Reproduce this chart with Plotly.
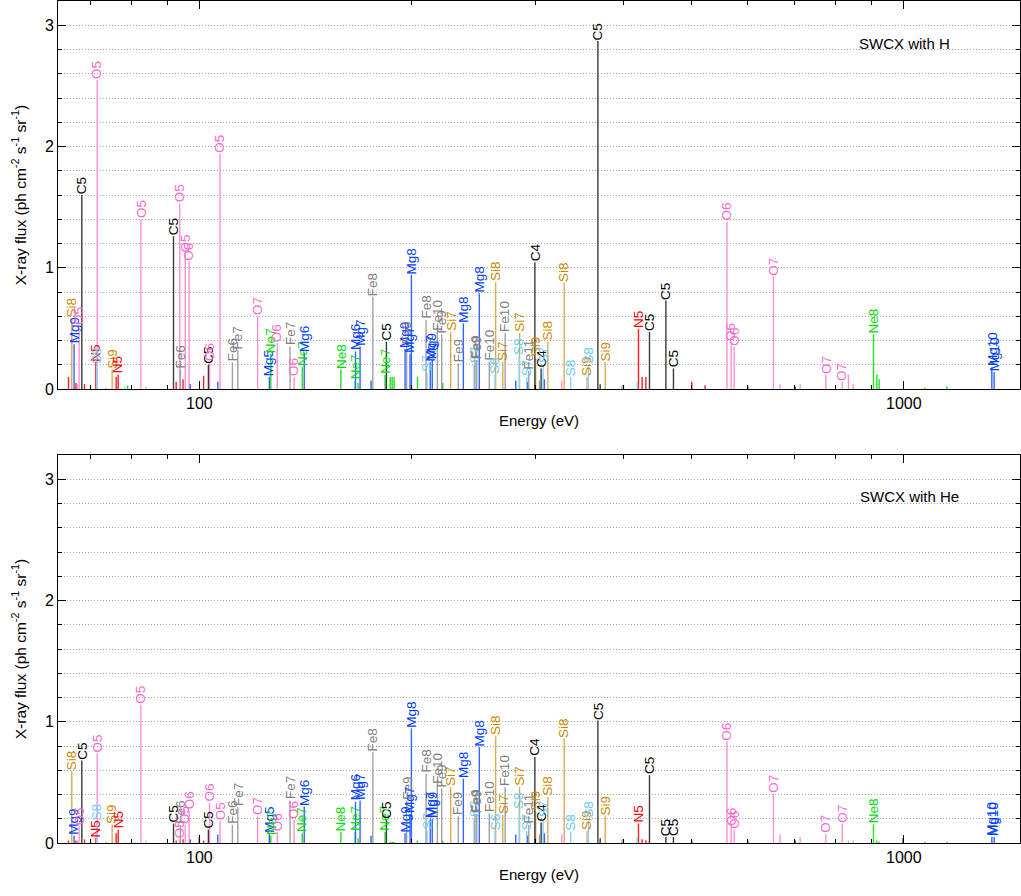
import math
import re
import plotly.graph_objects as go

# ---------------- data ----------------
# labelled lines: energy (eV), ion label, flux for SWCX with H and with He
line_energy = [65.9, 66.4, 67.5, 68.1, 71.3, 71.5, 71.6, 75.2, 76.7, 82.6,
               91.9, 93.8, 94.0, 95.5, 96.7, 103.0, 103.4, 107.0, 111.4, 113.4,
               121.0, 125.7, 126.3, 129.0, 134.5, 136.3, 140.0, 140.9, 158.8, 166.4,
               166.6, 169.1, 176.3, 183.5, 184.3, 195.9, 196.9, 199.1, 200.0, 209.8,
               210.5, 212.7, 214.1, 217.7, 220.8, 227.4, 233.1, 237.0, 245.4, 246.2,
               247.6, 249.7, 258.0, 262.8, 263.4, 269.6, 271.7, 284.4, 284.8, 291.6,
               293.5, 299.4, 300.2, 305.6, 307.6, 312.4, 329.5, 336.7, 355.1, 356.7,
               367.9, 376.8, 420.1, 435.5, 459.5, 471.0, 560.9, 568.8, 574.4, 653.0,
               775.1, 817.5, 905.6, 1333.4, 1343.5]
line_ion = ["Si8", "Mg9", "O5", "C5", "N5", "S8", "O5", "Si9", "N5", "O5",
            "C5", "O5", "Fe6", "O5", "O6", "C5", "O6", "O5", "Fe6", "Fe7",
            "O7", "Mg5", "Ne7", "O6", "Fe7", "O6", "Ne7", "Mg6", "Ne8", "Ne7",
            "Mg6", "Mg7", "Fe8", "Ne7", "C5", "Mg9", "Fe9", "Mg7", "Mg8", "Fe8",
            "S7", "Mg7", "Mg9", "Fe10", "Fe9", "Si7", "Fe9", "Mg8", "S7", "Fe9",
            "Fe9", "Mg8", "Fe10", "S6", "Si8", "Si7", "Fe10", "S8", "Si7", "S7",
            "Fe11", "C4", "Si9", "C4", "S7", "Si8", "Si8", "S8", "Si9", "S8",
            "C5", "Si9", "N5", "C5", "C5", "C5", "O6", "O6", "O6", "O7",
            "O7", "O7", "Ne8", "Mg10", "Mg10"]
flux_h = [0.58, 0.37, 0.52, 1.60, 0.22, 0.20, 2.55, 0.16, 0.12, 1.40,
          1.26, 1.53, 0.16, 1.12, 1.05, 0.20, 0.22, 1.94, 0.22, 0.32,
          0.60, 0.10, 0.29, 0.38, 0.35, 0.10, 0.18, 0.30, 0.16, 0.07,
          0.31, 0.35, 0.76, 0.115, 0.39, 0.33, 0.36, 0.29, 0.94, 0.57,
          0.13, 0.22, 0.24, 0.47, 0.45, 0.47, 0.21, 0.54, 0.20, 0.24,
          0.24, 0.79, 0.225, 0.12, 0.88, 0.22, 0.46, 0.27, 0.46, 0.10,
          0.15, 1.045, 0.26, 0.17, 0.20, 0.39, 0.875, 0.10, 0.10, 0.20,
          2.87, 0.22, 0.495, 0.47, 0.73, 0.17, 1.38, 0.39, 0.35, 0.93,
          0.115, 0.06, 0.45, 0.18, 0.14]
flux_he = [0.59, 0.06, 0.14, 0.68, 0.04, 0.18, 0.74, 0.15, 0.11, 1.14,
           0.16, 0.03, 0.15, 0.15, 0.27, 0.11, 0.33, 0.18, 0.15, 0.30,
           0.22, 0.08, 0.06, 0.09, 0.35, 0.19, 0.08, 0.30, 0.09, 0.09,
           0.34, 0.35, 0.75, 0.09, 0.19, 0.08, 0.35, 0.24, 0.945, 0.57,
           0.10, 0.20, 0.20, 0.48, 0.45, 0.46, 0.22, 0.53, 0.20, 0.24,
           0.24, 0.79, 0.245, 0.10, 0.88, 0.23, 0.46, 0.27, 0.46, 0.10,
           0.15, 0.71, 0.26, 0.17, 0.20, 0.38, 0.86, 0.095, 0.10, 0.20,
           1.01, 0.22, 0.16, 0.56, 0.05, 0.05, 0.835, 0.135, 0.11, 0.41,
           0.075, 0.16, 0.155, 0.05, 0.05]

# weak unlabelled lines
minor_energy = [65.2, 66.8, 67.2, 68.7, 73.7, 76.2, 78.4, 79.1, 84.0, 92.7,
                94.8, 97.1, 100.0, 101.4, 106.2, 168.0, 175.3, 186.6, 187.8, 189.0,
                204.0, 221.6, 281.3, 292.6, 303.9, 308.9, 326.9, 370.7, 397.8, 399.9,
                418.3, 425.2, 430.4, 500.1, 522.3, 600.5, 667.5, 701.0, 712.6, 834.5,
                847.4, 915.7, 922.6, 997.7, 1072.1, 1151.0]
minor_element = ["N", "N", "O", "N", "Si", "N", "S", "Ne", "S", "N",
                 "N", "Mg", "C", "N", "Mg", "Ne", "Mg", "Ne", "Ne", "Ne",
                 "Ne", "Ne", "Mg", "Mg", "Fe", "Mg", "O", "C", "S", "C",
                 "S", "N", "N", "N", "N", "C", "O", "C", "O", "O",
                 "O", "Ne", "Ne", "C", "Ne", "Ne"]
minor_flux_h = [0.10, 0.05, 0.04, 0.04, 0.01, 0.10, 0.02, 0.03, 0.02, 0.06,
                0.08, 0.04, 0.00, 0.11, 0.06, 0.05, 0.07, 0.10, 0.10, 0.10,
                0.10, 0.05, 0.07, 0.06, 0.07, 0.08, 0.07, 0.04, 0.03, 0.03,
                0.06, 0.10, 0.10, 0.06, 0.03, 0.02, 0.04, 0.02, 0.04, 0.12,
                0.04, 0.12, 0.08, 0.00, 0.01, 0.02]
minor_flux_he = [0.02, 0.02, 0.02, 0.03, 0.01, 0.08, 0.01, 0.00, 0.02, 0.02,
                 0.03, 0.03, 0.05, 0.02, 0.07, 0.04, 0.06, 0.01, 0.01, 0.01,
                 0.02, 0.02, 0.07, 0.06, 0.07, 0.08, 0.07, 0.04, 0.03, 0.03,
                 0.05, 0.03, 0.02, 0.02, 0.00, 0.02, 0.07, 0.02, 0.05, 0.02,
                 0.02, 0.02, 0.01, 0.04, 0.01, 0.01]

panel_titles = ["SWCX with H", "SWCX with He"]
x_major_ticks = [100, 1000]
x_minor_ticks = [70, 80, 90, 200, 300, 400, 500, 600, 700, 800, 900]
y_major_ticks = [0, 1, 2, 3]

# ---------------- styles ----------------
label_color = {"C": "#000000", "N": "#ff0000", "O": "#ff66cc", "Ne": "#00dd00",
               "Mg": "#0040ff", "Si": "#cc8800", "S": "#66ccff", "Fe": "#808080"}
stick_color = {"C": "#3a3a3a", "N": "#ff2020", "O": "#ff90da", "Ne": "#22e022",
               "Mg": "#3366ff", "Si": "#dcaa55", "S": "#88d4ff", "Fe": "#a0a0a0"}
FONT = "Liberation Sans, Arial, Helvetica, sans-serif"
GRID = "#a8a8a8"


def element(ion):
    return re.sub(r"\d+", "", ion)


fig = go.Figure()
annotations = []

panels = [("x", "y", flux_h, minor_flux_h), ("x2", "y2", flux_he, minor_flux_he)]
for (xa, ya, fl, mfl) in panels:
    groups = {}
    for e, el, v in zip(minor_energy, minor_element, mfl):
        groups.setdefault(el, ([], []))
        groups[el][0].extend([e, e, None])
        groups[el][1].extend([0, v, None])
    for e, ion, v in zip(line_energy, line_ion, fl):
        el = element(ion)
        groups.setdefault(el, ([], []))
        groups[el][0].extend([e, e, None])
        groups[el][1].extend([0, v, None])
    for el, (xs, ys) in groups.items():
        fig.add_trace(go.Scatter(x=xs, y=ys, mode="lines", xaxis=xa, yaxis=ya,
                                 line=dict(color=stick_color[el], width=1.4),
                                 hoverinfo="skip", showlegend=False))
    for e, ion, v in zip(line_energy, line_ion, fl):
        annotations.append(dict(
            x=math.log10(e), y=v, xref=xa, yref=ya, text=ion, showarrow=False,
            textangle=-90, xanchor="center", yanchor="bottom", borderpad=0,
            font=dict(family=FONT, size=13.5, color=label_color[element(ion)])))

annotations.append(dict(x=0.880, y=0.949, xref="paper", yref="paper",
                        xanchor="center", yanchor="middle",
                        text=panel_titles[0], showarrow=False,
                        font=dict(family=FONT, size=15, color="black")))
annotations.append(dict(x=0.885, y=0.411, xref="paper", yref="paper",
                        xanchor="center", yanchor="middle",
                        text=panel_titles[1], showarrow=False,
                        font=dict(family=FONT, size=15, color="black")))

xrange = [math.log10(63.0), math.log10(1462.0)]
xaxis_common = dict(
    type="log", range=xrange, tickvals=x_major_ticks,
    ticktext=[str(t) for t in x_major_ticks],
    ticks="inside", ticklen=8, tickcolor="black", showline=True,
    linecolor="black", linewidth=1, mirror="ticks", showgrid=False,
    zeroline=False, tickfont=dict(family=FONT, size=16, color="black"),
    minor=dict(tickvals=x_minor_ticks, ticks="inside", ticklen=4,
               tickcolor="black", showgrid=False),
    title=dict(text="Energy (eV)", font=dict(family=FONT, size=15, color="black"),
               standoff=4),
)
ytitle = "X-ray flux (ph cm<sup>-2</sup> s<sup>-1</sup> sr<sup>-1</sup>)"
yaxis_common = dict(
    range=[0, 3.2], tickvals=y_major_ticks, ticks="inside", ticklen=8,
    tickcolor="black", showline=True, linecolor="black", linewidth=1,
    mirror="ticks", showgrid=True, gridcolor=GRID, griddash="1px,2px",
    gridwidth=1, zeroline=False,
    tickfont=dict(family=FONT, size=16, color="black"),
    minor=dict(dtick=0.2, ticks="inside", ticklen=4, tickcolor="black",
               showgrid=True, gridcolor=GRID, griddash="1px,2px"),
    title=dict(text=ytitle, font=dict(family=FONT, size=15.5, color="black"),
               standoff=14),
)

top_lo = (843 - 389) / 842
bot_hi = (843 - 455) / 842
fig.update_layout(
    width=1021, height=896,
    margin=dict(l=58, r=1, t=1, b=53),
    paper_bgcolor="white", plot_bgcolor="white",
    xaxis=dict(xaxis_common, domain=[0, 1], anchor="y"),
    yaxis=dict(yaxis_common, domain=[top_lo, 1], anchor="x"),
    xaxis2=dict(xaxis_common, domain=[0, 1], anchor="y2"),
    yaxis2=dict(yaxis_common, domain=[0, bot_hi], anchor="x2"),
    annotations=annotations,
    showlegend=False,
)

fig.write_html("out.html")
